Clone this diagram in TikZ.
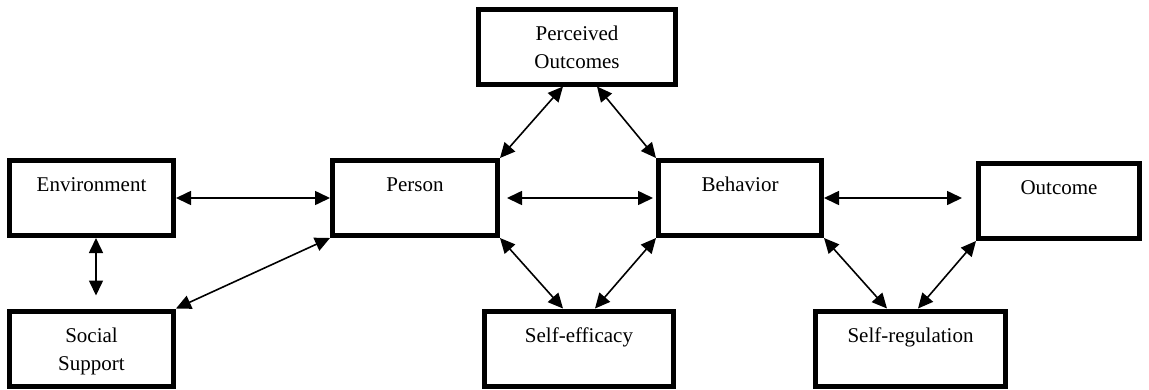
\documentclass[tikz,border=0pt]{standalone}
\usepackage{fontspec}
\setmainfont{Liberation Serif}
\usepackage{tikz}
\usetikzlibrary{arrows.meta}
\usetikzlibrary{positioning}

\begin{document}
\begin{tikzpicture}[x=1pt,y=-1pt,
  box/.style={draw,line width=5pt,inner sep=0pt,align=center,
    text height=31pt,text depth=44pt,minimum height=75pt,
    font=\fontsize{21}{28}\selectfont},
  twobox/.style={box,text height=59pt,text depth=16pt},
  link/.style={line width=1.6pt,{Triangle[length=15pt,width=14pt]}-{Triangle[length=15pt,width=14pt]}}]
  \useasboundingbox (0,0) rectangle (1149,389);

  \node (perc) at (577,46.5)[twobox,minimum width=197pt]{Perceived\\Outcomes};
  \node (env) at (91.5,198)[box,minimum width=164pt]{Environment};
  \node (person) at (415,198)[box,minimum width=165pt]{Person};
  \node (behav) at (740,198)[box,minimum width=163pt]{Behavior};
  \node (outc) at (1059,201)[box,minimum width=161pt]{Outcome};

  \node (social) at (91.5,348.5)[twobox,minimum width=164pt]{Social\\Support};
  \node (selfeff) at (579,348.5)[box,minimum width=189pt]{Self-efficacy};
  \node (selfreg) at (910.5,348.5)[box,minimum width=190pt]{Self-regulation};

  % horizontal links
  \draw[link](env.east)--(person.west);
  \draw[link,shorten <=7pt,shorten >=3pt](person.east)--(behav.west);
  \draw[link,shorten >=14pt](behav.east)--(behav.east -| outc.west);

  % left side
  \draw[link,shorten >=13pt]([xshift=4.5pt]env.south)--([xshift=4.5pt]social.north);
  \draw[link](social.north east)--(person.south west);

  % triangle round person and behavior
  \draw[link](person.north east)--([xshift=-14pt]perc.south);
  \draw[link](behav.north west)--([xshift=20pt]perc.south);
  \draw[link](person.south east)--([xshift=-16pt]selfeff.north);
  \draw[link](behav.south west)--([xshift=16pt]selfeff.north);

  % right side
  \draw[link](behav.south east)--([xshift=-23.5pt]selfreg.north);
  \draw[link](outc.south west)--([xshift=7.5pt]selfreg.north);
\end{tikzpicture}
\end{document}
